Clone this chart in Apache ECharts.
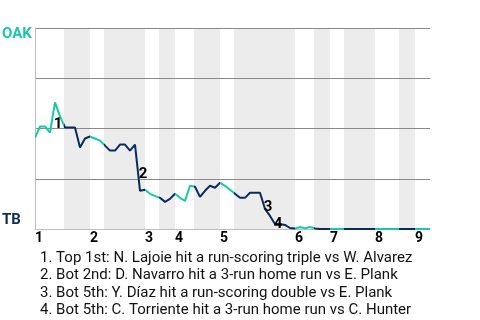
<!DOCTYPE html>
<html>
<head>
<meta charset="utf-8">
<script src="https://cdn.jsdelivr.net/npm/echarts@6/dist/echarts.min.js"></script>
<style>html,body{margin:0;padding:0;background:#fff}#c{width:480px;height:320px}</style>
</head>
<body>
<div id="c"></div>
<script>
// OAK win probability after each plate appearance (index = PA number)
const winProb = [
  0.455, 0.51, 0.51, 0.48, 0.63, 0.56,
  0.505, 0.505, 0.505, 0.405, 0.45, 0.46,
  0.45, 0.44,
  0.415, 0.39, 0.39, 0.42, 0.42, 0.39, 0.42, 0.19, 0.195,
  0.175, 0.165,
  0.155, 0.135, 0.15, 0.175,
  0.155, 0.14, 0.215, 0.21,
  0.16, 0.19, 0.215, 0.205, 0.23,
  0.215, 0.195,
  0.175, 0.155, 0.155, 0.18, 0.18, 0.18, 0.10, 0.065, 0.025, 0.025, 0.02, 0.005,
  0.002, 0.01, 0.003, 0.01,
  0.003, 0, 0, 0, 0, 0, 0, 0, 0, 0, 0, 0, 0, 0, 0, 0, 0, 0, 0, 0, 0, 0, 0, 0
];
// half-inning boundaries in PA units (top 1st, bot 1st, top 2nd, ...)
const halfBounds = [0, 5.8, 11, 13.8, 22, 24.8, 28, 31.8, 37, 39.8, 52, 55.8, 59, 61.8, 68, 72.8, 76, 79];
const inningLabels = ['1','2','3','4','5','6','7','8','9'];
const teams = ['OAK', 'TB'];
const eventNums = ['1','2','3','4'];
const eventIdx = [4, 21, 46, 48];
const eventTexts = [
  'Top 1st: N. Lajoie hit a run-scoring triple vs W. Alvarez',
  'Bot 2nd: D. Navarro hit a 3-run home run vs E. Plank',
  'Bot 5th: Y. D\u00edaz hit a run-scoring double vs E. Plank',
  'Bot 5th: C. Torriente hit a 3-run home run vs C. Hunter'
];

// styles
const TEAL = '#19c8a8';
const NAVY = '#0b2b5c';
const FONT = 'Roboto, "Liberation Sans", sans-serif';
const eventLabelOffsets = [[3, 22], [3, -17], [3, -2], [3, 0]];

const lineData = winProb.map((v, i) => [i, v]);
const nPA = winProb.length - 1;
const bands = [];
const pieces = [];
for (let h = 0; h < halfBounds.length - 1; h++) {
  const a = halfBounds[h], b = halfBounds[h + 1];
  const isBottom = h % 2 === 1;
  if (isBottom) bands.push([{ xAxis: a }, { xAxis: b }]);
  const p = { gte: a, color: isBottom ? NAVY : TEAL };
  if (h < halfBounds.length - 2) p.lt = b; else p.lte = b;
  pieces.push(p);
}
const inningStarts = halfBounds.filter((_, i) => i % 2 === 0 && i < halfBounds.length - 1);

const chart = echarts.init(document.getElementById('c'));
chart.setOption({
  animation: false,
  textStyle: { fontFamily: FONT },
  grid: { left: 35, right: 50, top: 28, bottom: 91 },
  title: {
    text: eventTexts.map((t, i) => eventNums[i] + '. ' + t).join('\n'),
    left: 35, top: 244,
    textStyle: { fontSize: 15, fontWeight: 'normal', color: '#111', lineHeight: 17.6, fontFamily: FONT }
  },
  xAxis: {
    type: 'value', min: 0, max: nPA, z: 1.6,
    axisLine: { show: true, lineStyle: { color: '#bdbdbd', width: 1 } },
    axisTick: { show: false },
    splitLine: { show: false },
    axisLabel: {
      customValues: inningStarts,
      formatter: (v) => inningLabels[inningStarts.indexOf(v)] || '',
      align: 'left', margin: 2, fontSize: 14, fontWeight: 'bold', color: '#000', fontFamily: FONT
    }
  },
  yAxis: {
    type: 'value', min: 0, max: 1, interval: 0.25, z: 1.5,
    axisLine: { show: true, lineStyle: { color: '#bdbdbd', width: 1 } },
    axisTick: { show: false },
    axisLabel: { show: false },
    splitLine: { show: true, lineStyle: { color: '#8a8a8a', width: 1 } }
  },
  graphic: [
    { type: 'text', left: 2, top: 27, style: { text: teams[0], fill: TEAL, font: 'bold 15px ' + FONT } },
    { type: 'text', left: 2, top: 213, style: { text: teams[1], fill: NAVY, font: 'bold 15px ' + FONT } }
  ],
  visualMap: {
    type: 'piecewise', show: false, dimension: 0, seriesIndex: 1, pieces: pieces
  },
  series: [
    {
      type: 'line', data: [], silent: true,
      markArea: { silent: true, z: 1, itemStyle: { color: '#ececec' }, data: bands }
    },
    {
      type: 'line', data: lineData, symbol: 'none', z: 3,
      lineStyle: { width: 2 }
    },
    {
      type: 'custom', z: 10, silent: true,
      data: eventIdx.map((idx) => [idx, winProb[idx]]),
      renderItem: (params, api) => {
        const pt = api.coord([api.value(0), api.value(1)]);
        const off = eventLabelOffsets[params.dataIndex];
        return {
          type: 'text',
          x: pt[0] + off[0], y: pt[1] + off[1],
          style: {
            text: eventNums[params.dataIndex], fill: '#000',
            font: 'bold 15px ' + FONT, align: 'center', verticalAlign: 'middle'
          }
        };
      }
    }
  ]
});
</script>
</body>
</html>
